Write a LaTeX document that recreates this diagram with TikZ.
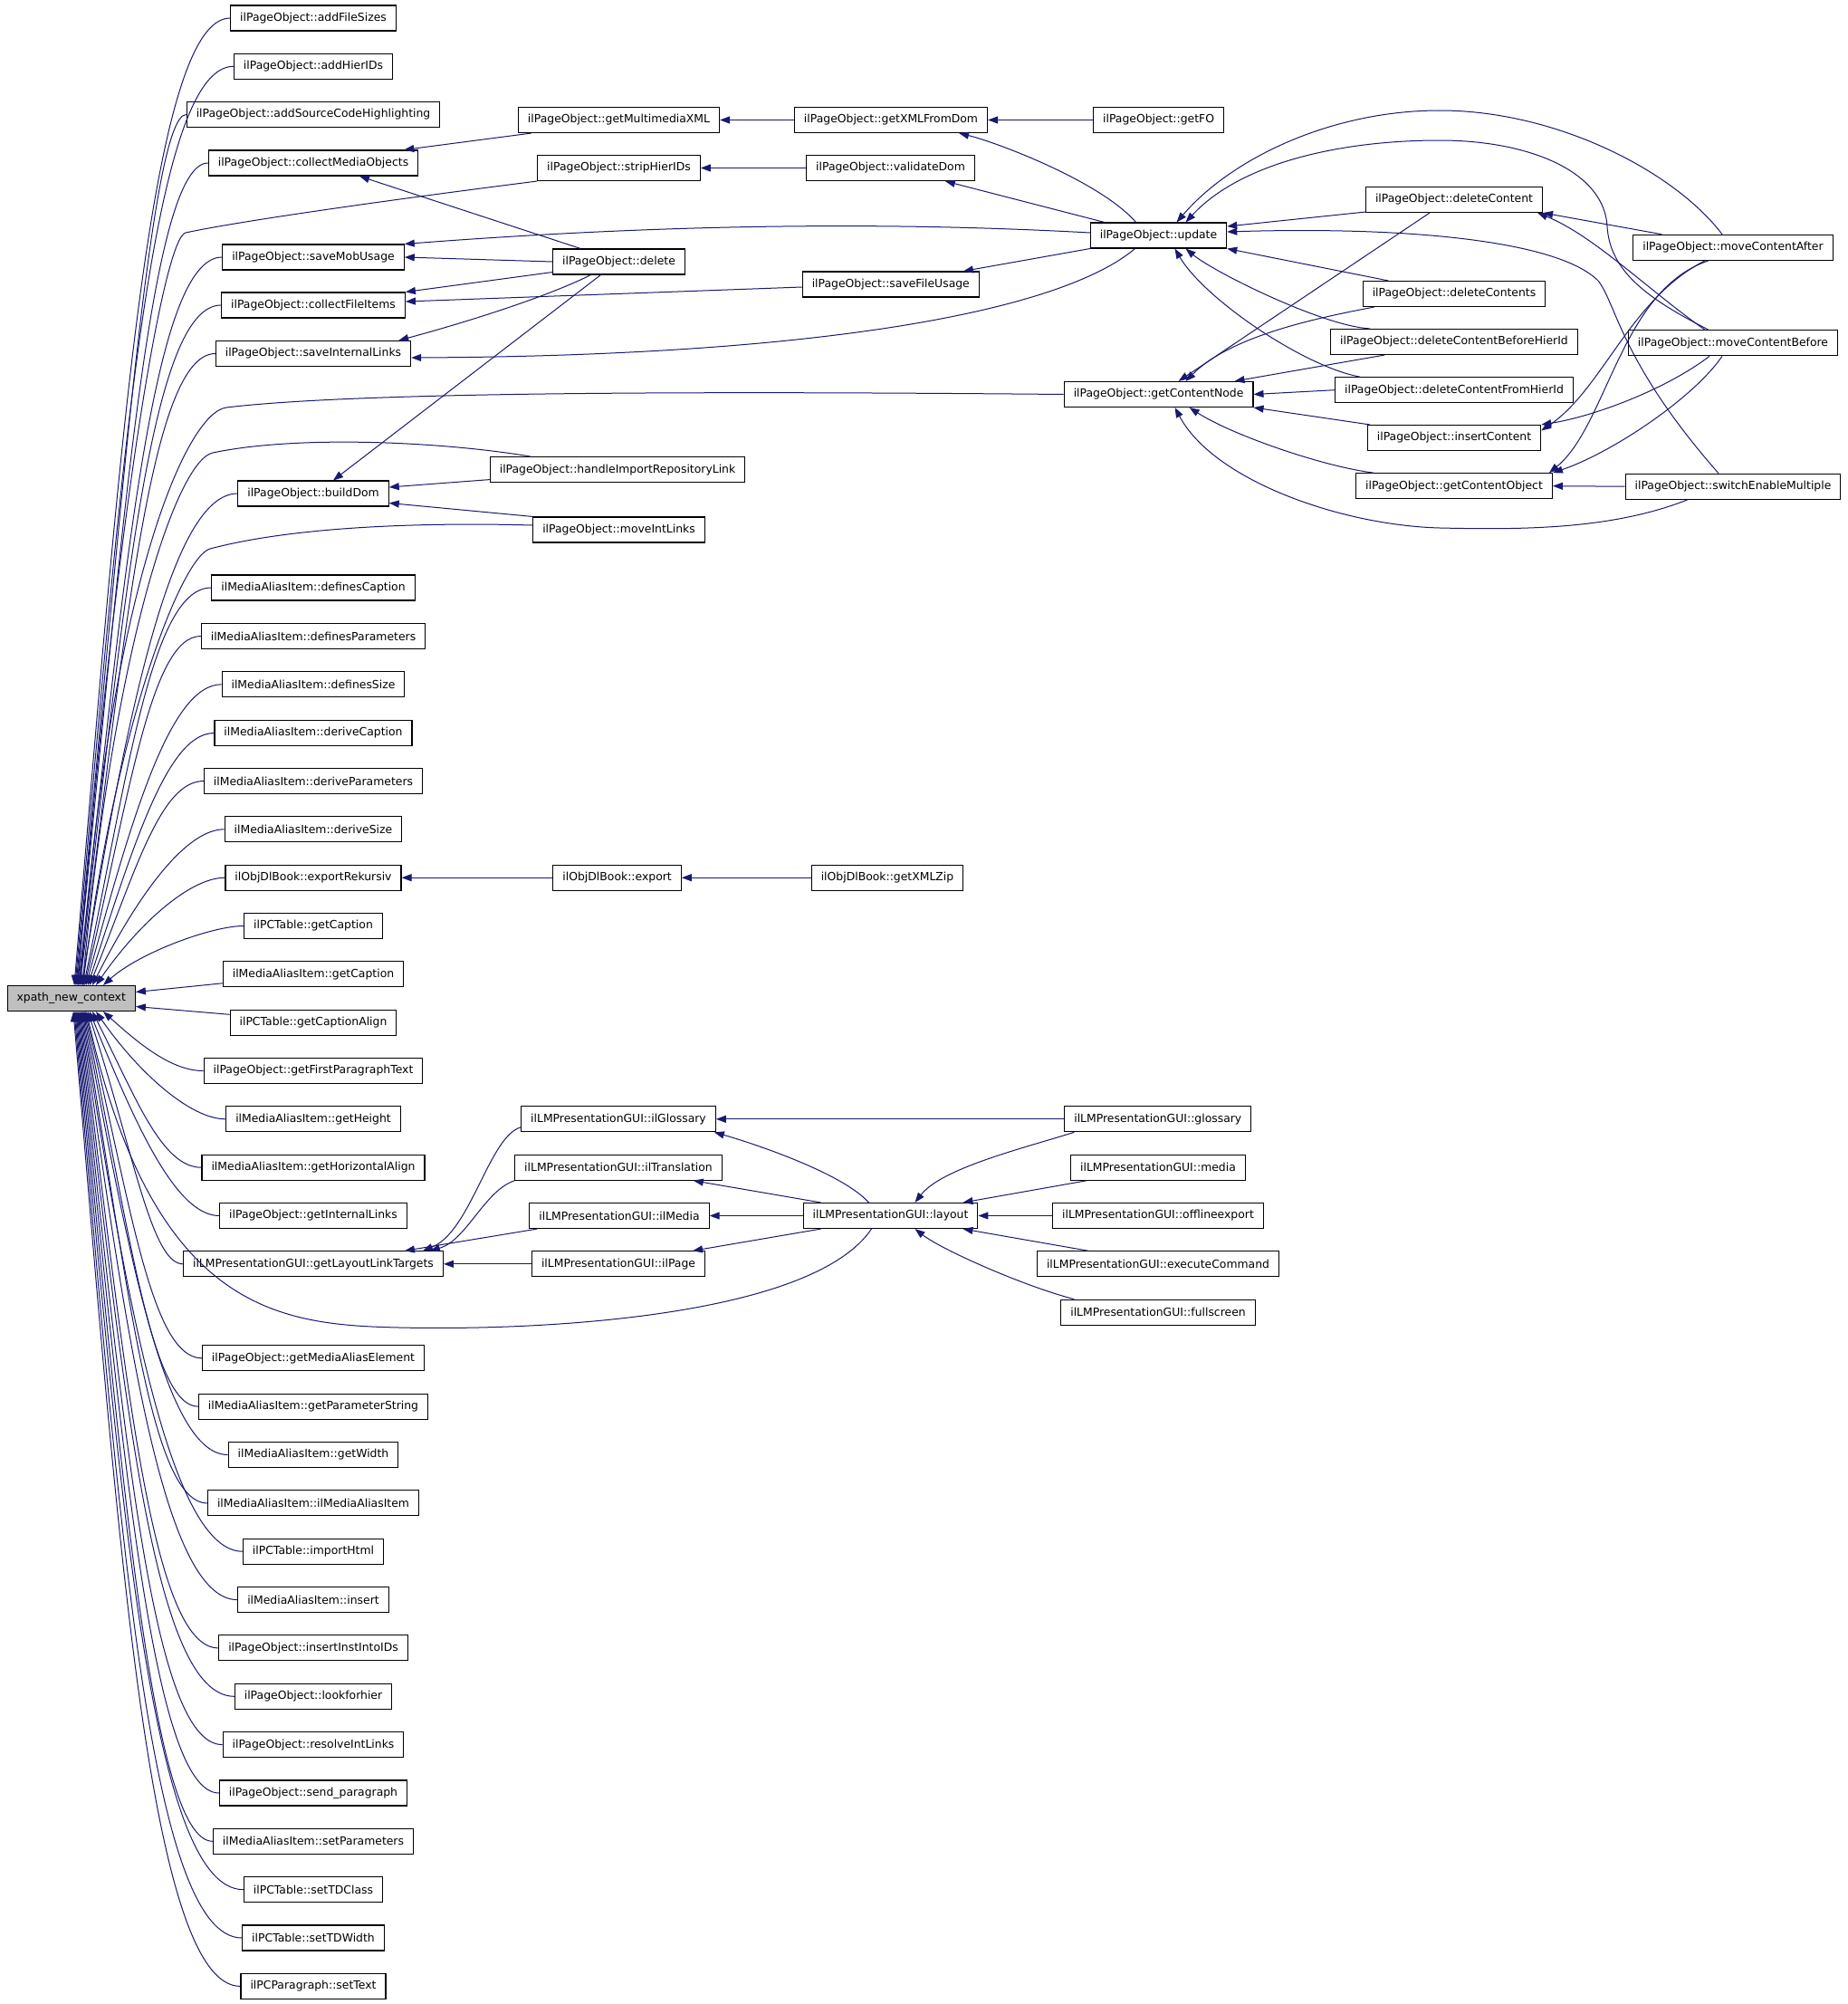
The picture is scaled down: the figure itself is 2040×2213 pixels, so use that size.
\documentclass[tikz,border=0pt]{standalone}
\usepackage{fontspec}
\usepackage{tikz}
\usetikzlibrary{arrows.meta}
\newfontfamily\graphfont{DejaVu Sans}
\definecolor{edgeblue}{RGB}{25,25,112}

\begin{document}
\begin{tikzpicture}[x=1pt,y=-1pt,
  fn/.style={draw=black, line width=1.1pt, fill=white, minimum height=28pt,
    inner xsep=10.5pt, inner ysep=0pt, font=\graphfont\fontsize{12.4}{14}\selectfont},
  edge/.style={draw=edgeblue, line width=1pt, -{Triangle[length=11pt,width=8pt]}}]
\fill[white] (0,0) rectangle (2040,2213);
\useasboundingbox (0,0) rectangle (2040,2213);

% the function itself
\node[fn, fill=gray!50] (xpath) at (78.7,1102.5) {xpath\_new\_context};

% direct callers
\node[fn] (afs) at (346,20) {ilPageObject::addFileSizes};
\node[fn] (ahi) at (346,73.3) {ilPageObject::addHierIDs};
\node[fn] (asch) at (346,126.5) {ilPageObject::addSourceCodeHighlighting};
\node[fn] (cmo) at (346,180) {ilPageObject::collectMediaObjects};
\node[fn] (smu) at (346,284) {ilPageObject::saveMobUsage};
\node[fn] (cfi) at (346,337) {ilPageObject::collectFileItems};
\node[fn] (sil) at (346,390.5) {ilPageObject::saveInternalLinks};
\node[fn] (bdom) at (346,545) {ilPageObject::buildDom};
\node[fn] (dfcap) at (346,649) {ilMediaAliasItem::definesCaption};
\node[fn] (dfpar) at (346,702.5) {ilMediaAliasItem::definesParameters};
\node[fn] (dfsize) at (346,755.8) {ilMediaAliasItem::definesSize};
\node[fn] (drcap) at (346,809.5) {ilMediaAliasItem::deriveCaption};
\node[fn] (drpar) at (346,862.5) {ilMediaAliasItem::deriveParameters};
\node[fn] (drsize) at (346,915.8) {ilMediaAliasItem::deriveSize};
\node[fn] (exrek) at (346,969.2) {ilObjDlBook::exportRekursiv};
\node[fn] (tgcap) at (346,1022.5) {ilPCTable::getCaption};
\node[fn] (mgcap) at (346,1075.8) {ilMediaAliasItem::getCaption};
\node[fn] (tgcal) at (346,1129.3) {ilPCTable::getCaptionAlign};
\node[fn] (gfpt) at (346,1182.5) {ilPageObject::getFirstParagraphText};
\node[fn] (ghgt) at (346,1235.8) {ilMediaAliasItem::getHeight};
\node[fn] (ghal) at (346,1289.2) {ilMediaAliasItem::getHorizontalAlign};
\node[fn] (gil) at (346,1342.5) {ilPageObject::getInternalLinks};
\node[fn] (gllt) at (346,1395.8) {ilLMPresentationGUI::getLayoutLinkTargets};
\node[fn] (gmae) at (346,1499.8) {ilPageObject::getMediaAliasElement};
\node[fn] (gps) at (346,1553.2) {ilMediaAliasItem::getParameterString};
\node[fn] (gwd) at (346,1606.5) {ilMediaAliasItem::getWidth};
\node[fn] (mai) at (346,1659.9) {ilMediaAliasItem::ilMediaAliasItem};
\node[fn] (ihtml) at (346,1713.2) {ilPCTable::importHtml};
\node[fn] (mins) at (346,1766.6) {ilMediaAliasItem::insert};
\node[fn] (iiid) at (346,1819.9) {ilPageObject::insertInstIntoIDs};
\node[fn] (lfh) at (346,1873.3) {ilPageObject::lookforhier};
\node[fn] (ril) at (346,1926.6) {ilPageObject::resolveIntLinks};
\node[fn] (spg) at (346,1980) {ilPageObject::send\_paragraph};
\node[fn] (spar) at (346,2033.3) {ilMediaAliasItem::setParameters};
\node[fn] (tdc) at (346,2086.7) {ilPCTable::setTDClass};
\node[fn] (tdw) at (346,2140) {ilPCTable::setTDWidth};
\node[fn] (stx) at (346,2193.4) {ilPCParagraph::setText};

% second level
\node[fn] (gmx) at (683.5,132.5) {ilPageObject::getMultimediaXML};
\node[fn] (shi) at (683.5,185.5) {ilPageObject::stripHierIDs};
\node[fn] (del) at (683.5,289) {ilPageObject::delete};
\node[fn] (hirl) at (682,518.6) {ilPageObject::handleImportRepositoryLink};
\node[fn] (mil) at (683.5,585) {ilPageObject::moveIntLinks};
\node[fn] (dlexp) at (681.6,969.2) {ilObjDlBook::export};
\node[fn] (ilgl) at (683,1235.8) {ilLMPresentationGUI::ilGlossary};
\node[fn] (iltr) at (683,1289.2) {ilLMPresentationGUI::ilTranslation};
\node[fn] (ilme) at (684,1342.5) {ilLMPresentationGUI::ilMedia};
\node[fn] (ilpg) at (683,1395.8) {ilLMPresentationGUI::ilPage};

% third level
\node[fn] (gxfd) at (984,132.5) {ilPageObject::getXMLFromDom};
\node[fn] (vdom) at (983.5,185.5) {ilPageObject::validateDom};
\node[fn] (sfu) at (983.8,314) {ilPageObject::saveFileUsage};
\node[fn] (dlzip) at (980,969.2) {ilObjDlBook::getXMLZip};
\node[fn] (layout) at (983.5,1342.5) {ilLMPresentationGUI::layout};

% fourth level
\node[fn] (getfo) at (1279.6,132.5) {ilPageObject::getFO};
\node[fn] (upd) at (1279.5,260) {ilPageObject::update};
\node[fn] (gcn) at (1279.6,435.5) {ilPageObject::getContentNode};
\node[fn] (gloss) at (1278.8,1235.8) {ilLMPresentationGUI::glossary};
\node[fn] (media) at (1279,1289.2) {ilLMPresentationGUI::media};
\node[fn] (offl) at (1279,1342.5) {ilLMPresentationGUI::offlineexport};
\node[fn] (excmd) at (1279,1395.8) {ilLMPresentationGUI::executeCommand};
\node[fn] (fulls) at (1279,1449.2) {ilLMPresentationGUI::fullscreen};

% fifth and sixth level
\node[fn] (dc) at (1606,220.5) {ilPageObject::deleteContent};
\node[fn] (dcs) at (1606,324.5) {ilPageObject::deleteContents};
\node[fn] (dcbh) at (1606,377.5) {ilPageObject::deleteContentBeforeHierId};
\node[fn] (dcfh) at (1606,430.7) {ilPageObject::deleteContentFromHierId};
\node[fn] (ic) at (1606,483.5) {ilPageObject::insertContent};
\node[fn] (gco) at (1606,536.7) {ilPageObject::getContentObject};
\node[fn] (mca) at (1914,273.3) {ilPageObject::moveContentAfter};
\node[fn] (mcb) at (1914,378.8) {ilPageObject::moveContentBefore};
\node[fn] (sem) at (1914,537.2) {ilPageObject::switchEnableMultiple};

% fan into xpath_new_context, from above
\draw[edge] (afs.west) .. controls +(-88,0) and +(50,-587) .. ([xshift=3.3pt]xpath.north);
\draw[edge] (ahi.west) .. controls +(-92,0) and +(50,-558) .. ([xshift=4.3pt]xpath.north);
\draw[edge] (asch.west) .. controls +(-39,0) and +(50,-529) .. ([xshift=5.3pt]xpath.north);
\draw[edge] (cmo.west) .. controls +(-64,0) and +(50,-499) .. ([xshift=6.3pt]xpath.north);
\draw[edge] (shi.south west) .. controls (420,222) and (260,245) .. (205,257)
  .. controls (180,262.5) and (126,588) .. ([xshift=7.3pt]xpath.north);
\draw[edge] (smu.west) .. controls +(-78,0) and +(50,-442) .. ([xshift=7.8pt]xpath.north);
\draw[edge] (cfi.west) .. controls +(-79,0) and +(50,-413) .. ([xshift=8.3pt]xpath.north);
\draw[edge] (sil.west) .. controls +(-72,0) and +(50,-384) .. ([xshift=9.3pt]xpath.north);
\draw[edge] (gcn.west) .. controls (800,432) and (400,432) .. (250,450)
  .. controls (205,456) and (122,648) .. ([xshift=10.3pt]xpath.north);
\draw[edge] (bdom.west) .. controls +(-73,0) and +(50,-299) .. ([xshift=11.3pt]xpath.north);
\draw[edge] ([xshift=45pt]hirl.north west) .. controls (490,488) and (330,480) .. (235,500)
  .. controls (197,508) and (128,700) .. ([xshift=12.3pt]xpath.north);
\draw[edge] ([yshift=5pt]mil.west) .. controls (480,577) and (330,580) .. (232,606)
  .. controls (202,614) and (130,790) .. ([xshift=12.8pt]xpath.north);
\draw[edge] (dfcap.west) .. controls +(-65,0) and +(50,-241) .. ([xshift=13.8pt]xpath.north);
\draw[edge] (dfpar.west) .. controls +(-55,0) and +(50,-212) .. ([xshift=14.8pt]xpath.north);
\draw[edge] (dfsize.west) .. controls +(-57,0) and +(50,-183) .. ([xshift=16.3pt]xpath.north);
\draw[edge] (drcap.west) .. controls +(-52,0) and +(50,-153) .. ([xshift=18.3pt]xpath.north);
\draw[edge] (drpar.west) .. controls +(-48,0) and +(50,-124) .. ([xshift=20.3pt]xpath.north);
\draw[edge] (drsize.west) .. controls +(-44,0) and +(48,-95) .. ([xshift=23.3pt]xpath.north);
\draw[edge] (exrek.west) .. controls +(-40,0) and +(45,-65) .. ([xshift=27.3pt]xpath.north);
\draw[edge] (tgcap.west) .. controls +(-35,0) and +(40,-36) .. ([xshift=35.3pt]xpath.north);

% straight in from the side
\draw[edge] ([yshift=-10pt]mgcap.west) -- ([yshift=7pt]xpath.east);
\draw[edge] ([yshift=9pt]tgcal.west) -- ([yshift=-9pt]xpath.east);

% fan into xpath_new_context, from below
\draw[edge] (gfpt.west) .. controls +(-35,0) and +(40,36) .. ([xshift=35.3pt]xpath.south);
\draw[edge] (ghgt.west) .. controls +(-40,0) and +(45,65) .. ([xshift=27.3pt]xpath.south);
\draw[edge] (ghal.west) .. controls +(-44,0) and +(48,95) .. ([xshift=23.3pt]xpath.south);
\draw[edge] (gil.west) .. controls +(-48,0) and +(50,124) .. ([xshift=20.3pt]xpath.south);
\draw[edge] (gllt.west) .. controls +(-35,0) and +(50,153) .. ([xshift=18.3pt]xpath.south);
\draw[edge] ([xshift=-21pt]layout.south) .. controls (900,1450) and (620,1470) .. (441,1466)
  .. controls (310,1463) and (170,1450) .. ([xshift=16.8pt]xpath.south);
\draw[edge] (gmae.west) .. controls +(-56,0) and +(50,211) .. ([xshift=15.3pt]xpath.south);
\draw[edge] (gps.west) .. controls +(-52,0) and +(50,240) .. ([xshift=14.3pt]xpath.south);
\draw[edge] (gwd.west) .. controls +(-69,0) and +(50,269) .. ([xshift=13.3pt]xpath.south);
\draw[edge] (mai.west) .. controls +(-63,0) and +(50,299) .. ([xshift=12.3pt]xpath.south);
\draw[edge] (ihtml.west) .. controls +(-78,0) and +(50,328) .. ([xshift=11.3pt]xpath.south);
\draw[edge] (mins.west) .. controls +(-82,0) and +(50,357) .. ([xshift=10.3pt]xpath.south);
\draw[edge] (iiid.west) .. controls +(-76,0) and +(50,387) .. ([xshift=9.3pt]xpath.south);
\draw[edge] (lfh.west) .. controls +(-91,0) and +(50,416) .. ([xshift=8.3pt]xpath.south);
\draw[edge] (ril.west) .. controls +(-80,0) and +(50,445) .. ([xshift=7.3pt]xpath.south);
\draw[edge] (spg.west) .. controls +(-75,0) and +(50,475) .. ([xshift=6.3pt]xpath.south);
\draw[edge] (spar.west) .. controls +(-68,0) and +(50,504) .. ([xshift=5.3pt]xpath.south);
\draw[edge] (tdc.west) .. controls +(-103,0) and +(50,533) .. ([xshift=4.3pt]xpath.south);
\draw[edge] (tdw.west) .. controls +(-103,0) and +(50,563) .. ([xshift=3.3pt]xpath.south);
\draw[edge] (stx.west) .. controls +(-100,0) and +(50,592) .. ([xshift=2.3pt]xpath.south);

% second level into the callers
\draw[edge] ([xshift=15pt]gmx.south west) -- ([xshift=-16pt]cmo.north east);
\draw[edge] ([xshift=31pt]del.north west) -- ([xshift=51pt]cmo.south);
\draw[edge] (del.west) -- (smu.east);
\draw[edge] ([yshift=3pt]upd.west) .. controls (950,243) and (700,250) .. (smu.north east);
\draw[edge] ([yshift=3pt]del.south west) -- (cfi.north east);
\draw[edge] ([yshift=-3pt]sfu.west) -- ([yshift=4pt]cfi.east);
\draw[edge] ([xshift=-31pt]del.south) .. controls (600,330) and (500,360) .. ([xshift=-14pt]sil.north east);
\draw[edge] ([xshift=-26pt]upd.south) .. controls (1170,345) and (900,393) .. ([yshift=-4.5pt]sil.east);
\draw[edge] ([xshift=-20pt]del.south) -- ([xshift=22pt]bdom.north);
\draw[edge] ([yshift=-11pt]hirl.west) -- ([yshift=7pt]bdom.east);
\draw[edge] (mil.north west) -- ([yshift=-10.5pt]bdom.east);

% third level
\draw[edge] (gxfd.west) -- (gmx.east);
\draw[edge] (vdom.west) -- (shi.east);
\draw[edge] (getfo.west) -- (gxfd.east);
\draw[edge] ([xshift=-25pt]upd.north) .. controls (1215,200) and (1100,157) .. ([xshift=-32pt]gxfd.south east);
\draw[edge] ([xshift=16pt]upd.north west) -- ([xshift=-33pt]vdom.south east);
\draw[edge] (upd.south west) -- ([xshift=-18pt]sfu.north east);
\draw[edge] (dlzip.west) -- (dlexp.east);
\draw[edge] (dlexp.west) -- (exrek.east);

% callers of update
\draw[edge] ([yshift=1pt]dc.south west) -- ([yshift=10pt]upd.east);
\draw[edge] ([xshift=28.5pt]dcs.north west) -- (upd.south east);
\draw[edge] ([xshift=44pt]dcbh.north west) .. controls (1460,360) and (1340,300) .. ([xshift=30pt]upd.south);
\draw[edge] ([xshift=28pt]dcfh.north west) .. controls (1440,405) and (1330,330) .. ([xshift=18pt]upd.south);
\draw[edge] ([xshift=-12pt]mca.north) .. controls (1850,190) and (1720,122) .. (1590,122)
  .. controls (1470,122) and (1360,175) .. ([xshift=20pt]upd.north);
\draw[edge] ([xshift=-27pt]mcb.north) .. controls (1820,330) and (1778,300) .. (1775,250)
  .. controls (1772,190) and (1690,155) .. (1590,155)
  .. controls (1480,155) and (1370,180) .. ([xshift=30pt]upd.north);
\draw[edge] ([xshift=-16pt]sem.north) .. controls (1790,400) and (1785,335) .. (1765,310)
  .. controls (1720,265) and (1550,250) .. ([yshift=4pt]upd.east);

% callers of getContentNode
\draw[edge] ([xshift=-27pt]dc.south) -- ([xshift=22pt]gcn.north);
\draw[edge] ([xshift=13pt]dcs.south west) .. controls (1460,350) and (1360,370) .. ([xshift=30pt]gcn.north);
\draw[edge] ([xshift=60pt]dcbh.south west) -- ([xshift=-21pt]gcn.north east);
\draw[edge] (dcfh.west) -- (gcn.east);
\draw[edge] ([xshift=3pt]ic.north west) -- (gcn.south east);
\draw[edge] ([xshift=20pt]gco.north west) .. controls (1460,515) and (1360,480) .. ([xshift=34pt]gcn.south);
\draw[edge] ([xshift=-50pt]sem.south) .. controls (1780,585) and (1680,585) .. (1590,583)
  .. controls (1480,580) and (1340,530) .. ([xshift=18pt]gcn.south);

% outer callers
\draw[edge] ([xshift=32pt]mca.north west) -- (dc.south east);
\draw[edge] ([xshift=-31pt]mcb.north) .. controls (1820,320) and (1760,260) .. ([xshift=-6pt]dc.south east);
\draw[edge] ([xshift=-31pt]mca.south) .. controls (1800,330) and (1770,430) .. ([yshift=8pt]ic.east);
\draw[edge] ([xshift=-27pt]mca.south) .. controls (1790,320) and (1775,470) .. ([xshift=-4pt]gco.north east);
\draw[edge] ([xshift=-26pt]mcb.south) .. controls (1840,430) and (1760,460) .. (ic.north east);
\draw[edge] ([xshift=-12pt]mcb.south) .. controls (1870,440) and (1780,500) .. (gco.north east);
\draw[edge] (sem.west) -- (gco.east);

% presentation GUI part
\draw[edge] ([yshift=-9pt]ilgl.west) .. controls (540,1255) and (520,1360) .. ([xshift=-23pt]gllt.north east);
\draw[edge] (iltr.south west) .. controls (535,1315) and (515,1370) .. ([xshift=-15pt]gllt.north east);
\draw[edge] ([xshift=9pt]ilme.south west) -- ([xshift=-43pt]gllt.north east);
\draw[edge] (ilpg.west) -- (gllt.east);
\draw[edge] (gloss.west) -- (ilgl.east);
\draw[edge] ([xshift=-24pt]layout.north) .. controls (930,1295) and (830,1262) .. ([xshift=-2pt]ilgl.south east);
\draw[edge] ([xshift=20pt]layout.north west) -- ([xshift=-32pt]iltr.south east);
\draw[edge] (layout.west) -- (ilme.east);
\draw[edge] ([xshift=20pt]layout.south west) -- ([xshift=-14pt]ilpg.north east);
\draw[edge] ([xshift=11pt]gloss.south west) .. controls (1130,1268) and (1040,1290) .. ([xshift=27pt]layout.north);
\draw[edge] ([xshift=18pt]media.south west) -- ([xshift=-17pt]layout.north east);
\draw[edge] (offl.west) -- (layout.east);
\draw[edge] ([xshift=57pt]excmd.north west) -- ([xshift=-17pt]layout.south east);
\draw[edge] ([xshift=15pt]fulls.north west) .. controls (1130,1420) and (1040,1380) .. ([xshift=27pt]layout.south);
\end{tikzpicture}
\end{document}
